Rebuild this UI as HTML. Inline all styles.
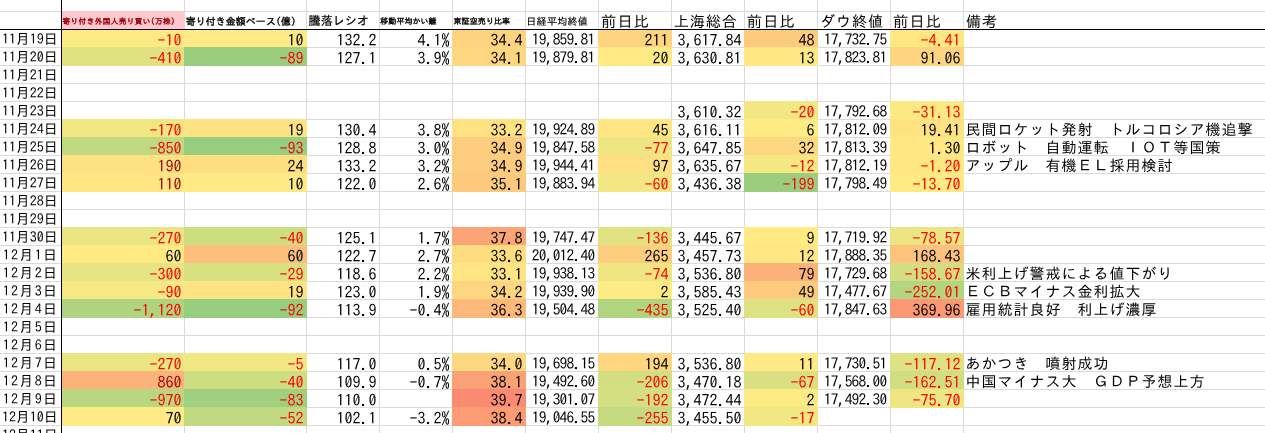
<!DOCTYPE html>
<html lang="ja"><head><meta charset="utf-8"><title>sheet</title>
<style>
html,body{margin:0;padding:0;background:#fff;}
body{width:1265px;height:433px;position:relative;overflow:hidden;font-family:"IPAGothic","Liberation Mono","Noto Sans CJK JP",monospace;color:#000;}
.s{position:absolute;left:0;top:0;width:1265px;height:433px;overflow:hidden;background:#fff;}
.s div{position:absolute;white-space:pre;box-sizing:border-box;}
.v{width:1px;top:0;height:433px;background:#d8dadc;}
.h{height:1px;left:0;width:1265px;background:#d8dadc;}
.n{font-size:16px;letter-spacing:0px;text-align:right;height:18px;line-height:18px;}
.m{font-size:15.4px;letter-spacing:-0.7px;text-align:right;height:18px;line-height:18px;}
.d{font-size:14px;height:18px;line-height:18px;text-align:left;}
.r{font-size:15px;letter-spacing:1px;text-align:left;height:18px;line-height:18px;}
.neg{color:#ff0000;}
.bad{color:#9c0006;}
.k{background:#000;}
.hd{height:18px;line-height:18px;text-align:left;}
</style></head><body><div class="s">

<div class="v" style="left:184px"></div>
<div class="v" style="left:306px"></div>
<div class="v" style="left:379px"></div>
<div class="v" style="left:452px"></div>
<div class="v" style="left:525px"></div>
<div class="v" style="left:598px"></div>
<div class="v" style="left:671px"></div>
<div class="v" style="left:744px"></div>
<div class="v" style="left:817px"></div>
<div class="v" style="left:890px"></div>
<div class="v" style="left:963px"></div>
<div class="h" style="top:11px"></div>
<div class="h" style="top:47px"></div>
<div class="h" style="top:65px"></div>
<div class="h" style="top:83px"></div>
<div class="h" style="top:101px"></div>
<div class="h" style="top:119px"></div>
<div class="h" style="top:137px"></div>
<div class="h" style="top:155px"></div>
<div class="h" style="top:173px"></div>
<div class="h" style="top:191px"></div>
<div class="h" style="top:209px"></div>
<div class="h" style="top:227px"></div>
<div class="h" style="top:245px"></div>
<div class="h" style="top:263px"></div>
<div class="h" style="top:281px"></div>
<div class="h" style="top:299px"></div>
<div class="h" style="top:317px"></div>
<div class="h" style="top:335px"></div>
<div class="h" style="top:353px"></div>
<div class="h" style="top:371px"></div>
<div class="h" style="top:389px"></div>
<div class="h" style="top:407px"></div>
<div class="h" style="top:425px"></div>
<div class="f" style="left:62px;top:11px;width:123px;height:18px;background:#ffc7ce"></div>
<div class="f" style="left:62px;top:30px;width:123px;height:18px;background:#fcea84"></div>
<div class="f" style="left:184px;top:30px;width:123px;height:18px;background:#ffe984"></div>
<div class="f" style="left:452px;top:30px;width:74px;height:18px;background:#fed37f"></div>
<div class="f" style="left:598px;top:30px;width:74px;height:18px;background:#fed480"></div>
<div class="f" style="left:744px;top:30px;width:74px;height:18px;background:#fdca7e"></div>
<div class="f" style="left:890px;top:30px;width:74px;height:18px;background:#ffe883"></div>
<div class="f" style="left:62px;top:47px;width:123px;height:19px;background:#e0e282"></div>
<div class="f" style="left:184px;top:47px;width:123px;height:19px;background:#9ace7e"></div>
<div class="f" style="left:452px;top:47px;width:74px;height:19px;background:#fed780"></div>
<div class="f" style="left:598px;top:47px;width:74px;height:19px;background:#ffe984"></div>
<div class="f" style="left:744px;top:47px;width:74px;height:19px;background:#ffe783"></div>
<div class="f" style="left:890px;top:47px;width:74px;height:19px;background:#fed480"></div>
<div class="f" style="left:744px;top:101px;width:74px;height:19px;background:#f1e783"></div>
<div class="f" style="left:890px;top:101px;width:74px;height:19px;background:#fbea84"></div>
<div class="f" style="left:62px;top:119px;width:123px;height:19px;background:#f0e783"></div>
<div class="f" style="left:184px;top:119px;width:123px;height:19px;background:#ffe282"></div>
<div class="f" style="left:452px;top:119px;width:74px;height:19px;background:#ffe382"></div>
<div class="f" style="left:598px;top:119px;width:74px;height:19px;background:#ffe683"></div>
<div class="f" style="left:744px;top:119px;width:74px;height:19px;background:#feeb84"></div>
<div class="f" style="left:890px;top:119px;width:74px;height:19px;background:#ffe382"></div>
<div class="f" style="left:62px;top:137px;width:123px;height:19px;background:#c1d980"></div>
<div class="f" style="left:184px;top:137px;width:123px;height:19px;background:#96cd7e"></div>
<div class="f" style="left:452px;top:137px;width:74px;height:19px;background:#fdcc7e"></div>
<div class="f" style="left:598px;top:137px;width:74px;height:19px;background:#eee683"></div>
<div class="f" style="left:744px;top:137px;width:74px;height:19px;background:#fed880"></div>
<div class="f" style="left:890px;top:137px;width:74px;height:19px;background:#ffe783"></div>
<div class="f" style="left:62px;top:155px;width:123px;height:19px;background:#fee182"></div>
<div class="f" style="left:184px;top:155px;width:123px;height:19px;background:#fede81"></div>
<div class="f" style="left:452px;top:155px;width:74px;height:19px;background:#fdcc7e"></div>
<div class="f" style="left:598px;top:155px;width:74px;height:19px;background:#fee082"></div>
<div class="f" style="left:744px;top:155px;width:74px;height:19px;background:#f5e883"></div>
<div class="f" style="left:890px;top:155px;width:74px;height:19px;background:#ffe783"></div>
<div class="f" style="left:62px;top:173px;width:123px;height:19px;background:#ffe683"></div>
<div class="f" style="left:184px;top:173px;width:123px;height:19px;background:#ffe984"></div>
<div class="f" style="left:452px;top:173px;width:74px;height:19px;background:#fdc97d"></div>
<div class="f" style="left:598px;top:173px;width:74px;height:19px;background:#f2e783"></div>
<div class="f" style="left:744px;top:173px;width:74px;height:19px;background:#9ace7e"></div>
<div class="f" style="left:890px;top:173px;width:74px;height:19px;background:#ffea84"></div>
<div class="f" style="left:62px;top:227px;width:123px;height:19px;background:#eae583"></div>
<div class="f" style="left:184px;top:227px;width:123px;height:19px;background:#cddd81"></div>
<div class="f" style="left:452px;top:227px;width:74px;height:19px;background:#fba576"></div>
<div class="f" style="left:598px;top:227px;width:74px;height:19px;background:#e1e282"></div>
<div class="f" style="left:744px;top:227px;width:74px;height:19px;background:#ffea84"></div>
<div class="f" style="left:890px;top:227px;width:74px;height:19px;background:#ece583"></div>
<div class="f" style="left:62px;top:245px;width:123px;height:19px;background:#ffea84"></div>
<div class="f" style="left:184px;top:245px;width:123px;height:19px;background:#fdbf7c"></div>
<div class="f" style="left:452px;top:245px;width:74px;height:19px;background:#fedd81"></div>
<div class="f" style="left:598px;top:245px;width:74px;height:19px;background:#fdce7e"></div>
<div class="f" style="left:744px;top:245px;width:74px;height:19px;background:#ffe883"></div>
<div class="f" style="left:890px;top:245px;width:74px;height:19px;background:#fdc37c"></div>
<div class="f" style="left:62px;top:263px;width:123px;height:19px;background:#e7e483"></div>
<div class="f" style="left:184px;top:263px;width:123px;height:19px;background:#d9e082"></div>
<div class="f" style="left:452px;top:263px;width:74px;height:19px;background:#ffe483"></div>
<div class="f" style="left:598px;top:263px;width:74px;height:19px;background:#efe683"></div>
<div class="f" style="left:744px;top:263px;width:74px;height:19px;background:#fcb179"></div>
<div class="f" style="left:890px;top:263px;width:74px;height:19px;background:#d1de81"></div>
<div class="f" style="left:62px;top:281px;width:123px;height:19px;background:#f6e883"></div>
<div class="f" style="left:184px;top:281px;width:123px;height:19px;background:#ffe282"></div>
<div class="f" style="left:452px;top:281px;width:74px;height:19px;background:#fed580"></div>
<div class="f" style="left:598px;top:281px;width:74px;height:19px;background:#ffeb84"></div>
<div class="f" style="left:744px;top:281px;width:74px;height:19px;background:#fdca7e"></div>
<div class="f" style="left:890px;top:281px;width:74px;height:19px;background:#b2d580"></div>
<div class="f" style="left:62px;top:299px;width:123px;height:19px;background:#afd47f"></div>
<div class="f" style="left:184px;top:299px;width:123px;height:19px;background:#97cd7e"></div>
<div class="f" style="left:452px;top:299px;width:74px;height:19px;background:#fcb97a"></div>
<div class="f" style="left:598px;top:299px;width:74px;height:19px;background:#b1d47f"></div>
<div class="f" style="left:744px;top:299px;width:74px;height:19px;background:#dee182"></div>
<div class="f" style="left:890px;top:299px;width:74px;height:19px;background:#fb9974"></div>
<div class="f" style="left:62px;top:353px;width:123px;height:19px;background:#eae583"></div>
<div class="f" style="left:184px;top:353px;width:123px;height:19px;background:#f1e783"></div>
<div class="f" style="left:452px;top:353px;width:74px;height:19px;background:#fed880"></div>
<div class="f" style="left:598px;top:353px;width:74px;height:19px;background:#fed680"></div>
<div class="f" style="left:744px;top:353px;width:74px;height:19px;background:#ffe984"></div>
<div class="f" style="left:890px;top:353px;width:74px;height:19px;background:#dfe282"></div>
<div class="f" style="left:62px;top:371px;width:123px;height:19px;background:#fcb379"></div>
<div class="f" style="left:184px;top:371px;width:123px;height:19px;background:#cddd81"></div>
<div class="f" style="left:452px;top:371px;width:74px;height:19px;background:#fba176"></div>
<div class="f" style="left:598px;top:371px;width:74px;height:19px;background:#d1de81"></div>
<div class="f" style="left:744px;top:371px;width:74px;height:19px;background:#dae082"></div>
<div class="f" style="left:890px;top:371px;width:74px;height:19px;background:#d0dd81"></div>
<div class="f" style="left:62px;top:389px;width:123px;height:19px;background:#b9d780"></div>
<div class="f" style="left:184px;top:389px;width:123px;height:19px;background:#a0d07f"></div>
<div class="f" style="left:452px;top:389px;width:74px;height:19px;background:#fa8b72"></div>
<div class="f" style="left:598px;top:389px;width:74px;height:19px;background:#d4df82"></div>
<div class="f" style="left:744px;top:389px;width:74px;height:19px;background:#fcea84"></div>
<div class="f" style="left:890px;top:389px;width:74px;height:19px;background:#ede683"></div>
<div class="f" style="left:62px;top:407px;width:123px;height:19px;background:#ffe984"></div>
<div class="f" style="left:184px;top:407px;width:123px;height:19px;background:#c1d980"></div>
<div class="f" style="left:452px;top:407px;width:74px;height:19px;background:#fb9c75"></div>
<div class="f" style="left:598px;top:407px;width:74px;height:19px;background:#c6db81"></div>
<div class="f" style="left:744px;top:407px;width:74px;height:19px;background:#f3e783"></div>
<div class="k" style="left:61px;top:0;width:1px;height:433px"></div>
<div class="k" style="left:0;top:29px;width:1265px;height:1px"></div>
<div class="hd" style="left:62.6px;top:11.6px;font-size:7.6px;letter-spacing:0.42px;color:#9c0006;-webkit-text-stroke:0.4px #9c0006;">寄り付き外国人売り買い(万株)</div>
<div class="hd" style="left:185.7px;top:11.6px;font-size:9.9px;letter-spacing:0.15px;color:#000;-webkit-text-stroke:0.35px #000;">寄り付き金額ベース(億)</div>
<div class="hd" style="left:308.6px;top:11px;font-size:12.1px;letter-spacing:0px;color:#000;-webkit-text-stroke:0.2px #000;">騰落レシオ</div>
<div class="hd" style="left:380.3px;top:12px;font-size:8px;letter-spacing:0.05px;color:#000;-webkit-text-stroke:0.35px #000;">移動平均かい離</div>
<div class="hd" style="left:453.5px;top:12px;font-size:8px;letter-spacing:0.1px;color:#000;-webkit-text-stroke:0.35px #000;">東証空売り比率</div>
<div class="hd" style="left:526.3px;top:12px;font-size:10px;letter-spacing:0.3px;color:#000;-webkit-text-stroke:0.15px #000;">日経平均終値</div>
<div class="hd" style="left:601px;top:12.5px;font-size:15.2px;letter-spacing:1.2px;color:#000;">前日比</div>
<div class="hd" style="left:673.7px;top:12.5px;font-size:15.2px;letter-spacing:0.8px;color:#000;">上海総合</div>
<div class="hd" style="left:746.8px;top:12.5px;font-size:15.2px;letter-spacing:1.2px;color:#000;">前日比</div>
<div class="hd" style="left:820px;top:12.5px;font-size:15.2px;letter-spacing:0.8px;color:#000;">ダウ終値</div>
<div class="hd" style="left:893px;top:12.5px;font-size:15.2px;letter-spacing:1.2px;color:#000;">前日比</div>
<div class="hd" style="left:966px;top:12.5px;font-size:15.2px;letter-spacing:0.8px;color:#000;">備考</div>
<div class="d" style="left:1.97083px;top:30.2px;letter-spacing:-0.058px">11月19日</div>
<div class="n neg" style="right:1083.5px;top:30.9px">-10</div>
<div class="n" style="right:961.5px;top:30.9px">10</div>
<div class="n" style="right:888.5px;top:30.9px">132.2</div>
<div class="n" style="right:815.5px;top:30.9px">4.1%</div>
<div class="n" style="right:742.5px;top:30.9px">34.4</div>
<div class="m" style="right:670.4px;top:30px">19,859.81</div>
<div class="n" style="right:596.5px;top:30.9px">211</div>
<div class="n" style="right:523.5px;top:30.9px">3,617.84</div>
<div class="n" style="right:450.5px;top:30.9px">48</div>
<div class="m" style="right:378.4px;top:30px">17,732.75</div>
<div class="n neg" style="right:304.5px;top:30.9px">-4.41</div>
<div class="d" style="left:1.97083px;top:48.2px;letter-spacing:-0.058px">11月20日</div>
<div class="n neg" style="right:1083.5px;top:48.9px">-410</div>
<div class="n neg" style="right:961.5px;top:48.9px">-89</div>
<div class="n" style="right:888.5px;top:48.9px">127.1</div>
<div class="n" style="right:815.5px;top:48.9px">3.9%</div>
<div class="n" style="right:742.5px;top:48.9px">34.1</div>
<div class="m" style="right:670.4px;top:48px">19,879.81</div>
<div class="n" style="right:596.5px;top:48.9px">20</div>
<div class="n" style="right:523.5px;top:48.9px">3,630.81</div>
<div class="n" style="right:450.5px;top:48.9px">13</div>
<div class="m" style="right:378.4px;top:48px">17,823.81</div>
<div class="n" style="right:304.5px;top:48.9px">91.06</div>
<div class="d" style="left:1.97083px;top:66.2px;letter-spacing:-0.058px">11月21日</div>
<div class="d" style="left:1.97083px;top:84.2px;letter-spacing:-0.058px">11月22日</div>
<div class="d" style="left:1.97083px;top:102.2px;letter-spacing:-0.058px">11月23日</div>
<div class="n" style="right:523.5px;top:102.9px">3,610.32</div>
<div class="n neg" style="right:450.5px;top:102.9px">-20</div>
<div class="m" style="right:378.4px;top:102px">17,792.68</div>
<div class="n neg" style="right:304.5px;top:102.9px">-31.13</div>
<div class="d" style="left:1.97083px;top:120.2px;letter-spacing:-0.058px">11月24日</div>
<div class="n neg" style="right:1083.5px;top:120.9px">-170</div>
<div class="n" style="right:961.5px;top:120.9px">19</div>
<div class="n" style="right:888.5px;top:120.9px">130.4</div>
<div class="n" style="right:815.5px;top:120.9px">3.8%</div>
<div class="n" style="right:742.5px;top:120.9px">33.2</div>
<div class="m" style="right:670.4px;top:120px">19,924.89</div>
<div class="n" style="right:596.5px;top:120.9px">45</div>
<div class="n" style="right:523.5px;top:120.9px">3,616.11</div>
<div class="n" style="right:450.5px;top:120.9px">6</div>
<div class="m" style="right:378.4px;top:120px">17,812.09</div>
<div class="n" style="right:304.5px;top:120.9px">19.41</div>
<div class="r" style="left:965.5px;top:121.2px">民間ロケット発射　トルコロシア機追撃</div>
<div class="d" style="left:1.97083px;top:138.2px;letter-spacing:-0.058px">11月25日</div>
<div class="n neg" style="right:1083.5px;top:138.9px">-850</div>
<div class="n neg" style="right:961.5px;top:138.9px">-93</div>
<div class="n" style="right:888.5px;top:138.9px">128.8</div>
<div class="n" style="right:815.5px;top:138.9px">3.0%</div>
<div class="n" style="right:742.5px;top:138.9px">34.9</div>
<div class="m" style="right:670.4px;top:138px">19,847.58</div>
<div class="n neg" style="right:596.5px;top:138.9px">-77</div>
<div class="n" style="right:523.5px;top:138.9px">3,647.85</div>
<div class="n" style="right:450.5px;top:138.9px">32</div>
<div class="m" style="right:378.4px;top:138px">17,813.39</div>
<div class="n" style="right:304.5px;top:138.9px">1.30</div>
<div class="r" style="left:965.5px;top:139.2px">ロボット　自動運転　ＩＯＴ等国策</div>
<div class="d" style="left:1.97083px;top:156.2px;letter-spacing:-0.058px">11月26日</div>
<div class="n bad" style="right:1083.5px;top:156.9px">190</div>
<div class="n" style="right:961.5px;top:156.9px">24</div>
<div class="n" style="right:888.5px;top:156.9px">133.2</div>
<div class="n" style="right:815.5px;top:156.9px">3.2%</div>
<div class="n" style="right:742.5px;top:156.9px">34.9</div>
<div class="m" style="right:670.4px;top:156px">19,944.41</div>
<div class="n" style="right:596.5px;top:156.9px">97</div>
<div class="n" style="right:523.5px;top:156.9px">3,635.67</div>
<div class="n neg" style="right:450.5px;top:156.9px">-12</div>
<div class="m" style="right:378.4px;top:156px">17,812.19</div>
<div class="n neg" style="right:304.5px;top:156.9px">-1.20</div>
<div class="r" style="left:965.5px;top:157.2px">アップル　有機ＥＬ採用検討</div>
<div class="d" style="left:1.97083px;top:174.2px;letter-spacing:-0.058px">11月27日</div>
<div class="n bad" style="right:1083.5px;top:174.9px">110</div>
<div class="n" style="right:961.5px;top:174.9px">10</div>
<div class="n" style="right:888.5px;top:174.9px">122.0</div>
<div class="n" style="right:815.5px;top:174.9px">2.6%</div>
<div class="n" style="right:742.5px;top:174.9px">35.1</div>
<div class="m" style="right:670.4px;top:174px">19,883.94</div>
<div class="n neg" style="right:596.5px;top:174.9px">-60</div>
<div class="n" style="right:523.5px;top:174.9px">3,436.38</div>
<div class="n neg" style="right:450.5px;top:174.9px">-199</div>
<div class="m" style="right:378.4px;top:174px">17,798.49</div>
<div class="n neg" style="right:304.5px;top:174.9px">-13.70</div>
<div class="d" style="left:1.97083px;top:192.2px;letter-spacing:-0.058px">11月28日</div>
<div class="d" style="left:1.97083px;top:210.2px;letter-spacing:-0.058px">11月29日</div>
<div class="d" style="left:1.97083px;top:228.2px;letter-spacing:-0.058px">11月30日</div>
<div class="n neg" style="right:1083.5px;top:228.9px">-270</div>
<div class="n neg" style="right:961.5px;top:228.9px">-40</div>
<div class="n" style="right:888.5px;top:228.9px">125.1</div>
<div class="n" style="right:815.5px;top:228.9px">1.7%</div>
<div class="n" style="right:742.5px;top:228.9px">37.8</div>
<div class="m" style="right:670.4px;top:228px">19,747.47</div>
<div class="n neg" style="right:596.5px;top:228.9px">-136</div>
<div class="n" style="right:523.5px;top:228.9px">3,445.67</div>
<div class="n" style="right:450.5px;top:228.9px">9</div>
<div class="m" style="right:378.4px;top:228px">17,719.92</div>
<div class="n neg" style="right:304.5px;top:228.9px">-78.57</div>
<div class="d" style="left:2.665px;top:246.2px;letter-spacing:1.330px">12月1日</div>
<div class="n" style="right:1083.5px;top:246.9px">60</div>
<div class="n" style="right:961.5px;top:246.9px">60</div>
<div class="n" style="right:888.5px;top:246.9px">122.7</div>
<div class="n" style="right:815.5px;top:246.9px">2.7%</div>
<div class="n" style="right:742.5px;top:246.9px">33.6</div>
<div class="m" style="right:670.4px;top:246px">20,012.40</div>
<div class="n" style="right:596.5px;top:246.9px">265</div>
<div class="n" style="right:523.5px;top:246.9px">3,457.73</div>
<div class="n" style="right:450.5px;top:246.9px">12</div>
<div class="m" style="right:378.4px;top:246px">17,888.35</div>
<div class="n" style="right:304.5px;top:246.9px">168.43</div>
<div class="d" style="left:2.665px;top:264.2px;letter-spacing:1.330px">12月2日</div>
<div class="n neg" style="right:1083.5px;top:264.9px">-300</div>
<div class="n neg" style="right:961.5px;top:264.9px">-29</div>
<div class="n" style="right:888.5px;top:264.9px">118.6</div>
<div class="n" style="right:815.5px;top:264.9px">2.2%</div>
<div class="n" style="right:742.5px;top:264.9px">33.1</div>
<div class="m" style="right:670.4px;top:264px">19,938.13</div>
<div class="n neg" style="right:596.5px;top:264.9px">-74</div>
<div class="n" style="right:523.5px;top:264.9px">3,536.80</div>
<div class="n" style="right:450.5px;top:264.9px">79</div>
<div class="m" style="right:378.4px;top:264px">17,729.68</div>
<div class="n neg" style="right:304.5px;top:264.9px">-158.67</div>
<div class="r" style="left:965.5px;top:265.2px">米利上げ警戒による値下がり</div>
<div class="d" style="left:2.665px;top:282.2px;letter-spacing:1.330px">12月3日</div>
<div class="n neg" style="right:1083.5px;top:282.9px">-90</div>
<div class="n" style="right:961.5px;top:282.9px">19</div>
<div class="n" style="right:888.5px;top:282.9px">123.0</div>
<div class="n" style="right:815.5px;top:282.9px">1.9%</div>
<div class="n" style="right:742.5px;top:282.9px">34.2</div>
<div class="m" style="right:670.4px;top:282px">19,939.90</div>
<div class="n" style="right:596.5px;top:282.9px">2</div>
<div class="n" style="right:523.5px;top:282.9px">3,585.43</div>
<div class="n" style="right:450.5px;top:282.9px">49</div>
<div class="m" style="right:378.4px;top:282px">17,477.67</div>
<div class="n neg" style="right:304.5px;top:282.9px">-252.01</div>
<div class="r" style="left:965.5px;top:283.2px">ＥＣＢマイナス金利拡大</div>
<div class="d" style="left:2.665px;top:300.2px;letter-spacing:1.330px">12月4日</div>
<div class="n neg" style="right:1083.5px;top:300.9px">-1,120</div>
<div class="n neg" style="right:961.5px;top:300.9px">-92</div>
<div class="n" style="right:888.5px;top:300.9px">113.9</div>
<div class="n" style="right:815.5px;top:300.9px">-0.4%</div>
<div class="n" style="right:742.5px;top:300.9px">36.3</div>
<div class="m" style="right:670.4px;top:300px">19,504.48</div>
<div class="n neg" style="right:596.5px;top:300.9px">-435</div>
<div class="n" style="right:523.5px;top:300.9px">3,525.40</div>
<div class="n neg" style="right:450.5px;top:300.9px">-60</div>
<div class="m" style="right:378.4px;top:300px">17,847.63</div>
<div class="n" style="right:304.5px;top:300.9px">369.96</div>
<div class="r" style="left:965.5px;top:301.2px">雇用統計良好　利上げ濃厚</div>
<div class="d" style="left:2.665px;top:318.2px;letter-spacing:1.330px">12月5日</div>
<div class="d" style="left:2.665px;top:336.2px;letter-spacing:1.330px">12月6日</div>
<div class="d" style="left:2.665px;top:354.2px;letter-spacing:1.330px">12月7日</div>
<div class="n neg" style="right:1083.5px;top:354.9px">-270</div>
<div class="n neg" style="right:961.5px;top:354.9px">-5</div>
<div class="n" style="right:888.5px;top:354.9px">117.0</div>
<div class="n" style="right:815.5px;top:354.9px">0.5%</div>
<div class="n" style="right:742.5px;top:354.9px">34.0</div>
<div class="m" style="right:670.4px;top:354px">19,698.15</div>
<div class="n" style="right:596.5px;top:354.9px">194</div>
<div class="n" style="right:523.5px;top:354.9px">3,536.80</div>
<div class="n" style="right:450.5px;top:354.9px">11</div>
<div class="m" style="right:378.4px;top:354px">17,730.51</div>
<div class="n neg" style="right:304.5px;top:354.9px">-117.12</div>
<div class="r" style="left:965.5px;top:355.2px">あかつき　噴射成功</div>
<div class="d" style="left:2.665px;top:372.2px;letter-spacing:1.330px">12月8日</div>
<div class="n bad" style="right:1083.5px;top:372.9px">860</div>
<div class="n neg" style="right:961.5px;top:372.9px">-40</div>
<div class="n" style="right:888.5px;top:372.9px">109.9</div>
<div class="n" style="right:815.5px;top:372.9px">-0.7%</div>
<div class="n" style="right:742.5px;top:372.9px">38.1</div>
<div class="m" style="right:670.4px;top:372px">19,492.60</div>
<div class="n neg" style="right:596.5px;top:372.9px">-206</div>
<div class="n" style="right:523.5px;top:372.9px">3,470.18</div>
<div class="n neg" style="right:450.5px;top:372.9px">-67</div>
<div class="m" style="right:378.4px;top:372px">17,568.00</div>
<div class="n neg" style="right:304.5px;top:372.9px">-162.51</div>
<div class="r" style="left:965.5px;top:373.2px">中国マイナス大　ＧＤＰ予想上方</div>
<div class="d" style="left:2.665px;top:390.2px;letter-spacing:1.330px">12月9日</div>
<div class="n neg" style="right:1083.5px;top:390.9px">-970</div>
<div class="n neg" style="right:961.5px;top:390.9px">-83</div>
<div class="n" style="right:888.5px;top:390.9px">110.0</div>
<div class="n" style="right:742.5px;top:390.9px">39.7</div>
<div class="m" style="right:670.4px;top:390px">19,301.07</div>
<div class="n neg" style="right:596.5px;top:390.9px">-192</div>
<div class="n" style="right:523.5px;top:390.9px">3,472.44</div>
<div class="n" style="right:450.5px;top:390.9px">2</div>
<div class="m" style="right:378.4px;top:390px">17,492.30</div>
<div class="n neg" style="right:304.5px;top:390.9px">-75.70</div>
<div class="d" style="left:1.97083px;top:408.2px;letter-spacing:-0.058px">12月10日</div>
<div class="n" style="right:1083.5px;top:408.9px">70</div>
<div class="n neg" style="right:961.5px;top:408.9px">-52</div>
<div class="n" style="right:888.5px;top:408.9px">102.1</div>
<div class="n" style="right:815.5px;top:408.9px">-3.2%</div>
<div class="n" style="right:742.5px;top:408.9px">38.4</div>
<div class="m" style="right:670.4px;top:408px">19,046.55</div>
<div class="n neg" style="right:596.5px;top:408.9px">-255</div>
<div class="n" style="right:523.5px;top:408.9px">3,455.50</div>
<div class="n neg" style="right:450.5px;top:408.9px">-17</div>
<div class="d" style="left:1.97083px;top:426.2px;letter-spacing:-0.058px">12月11日</div>
</div></body></html>
